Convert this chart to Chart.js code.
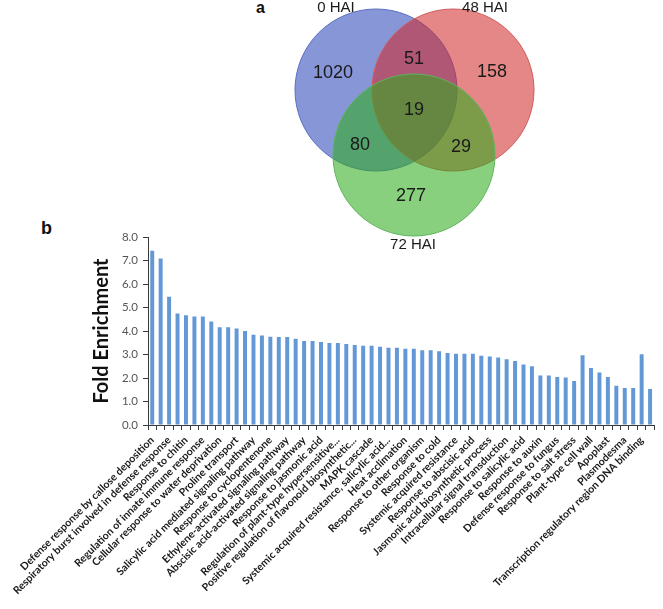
<!DOCTYPE html>
<html>
<head>
<meta charset="utf-8">
<script src="https://cdn.jsdelivr.net/npm/chart.js@4.4.0/dist/chart.umd.min.js"></script>
<style>
body { margin: 0; background: #fff; width: 663px; height: 609px; overflow: hidden; position: relative; }
/* bubble charts pad the plot by radius+border (82px), so the canvas is grown by that much */
#venn { position: absolute; left: 158px; top: -82px; }
#bars { position: absolute; left: 0; top: 220px; }
.panel { position: absolute; font-family: 'Liberation Sans', Arial, sans-serif; font-weight: bold; color: #111; line-height: 1; }
</style>
</head>
<body>
<div class="panel" style="left:256px;top:0px;font-size:16px">a</div>
<div class="panel" style="left:41px;top:219px;font-size:18px">b</div>
<canvas id="venn" width="524" height="424"></canvas>
<canvas id="bars" width="663" height="389"></canvas>
<script>
// Venn counts: only0, 0&48, only48, all three, 0&72, 48&72, only72
var setNames = ['0 HAI', '48 HAI', '72 HAI']
var regionCounts = [1020, 51, 158, 19, 80, 29, 277]

// fold enrichment of the 60 GO terms, in plot order
var foldValues = [7.42, 7.09, 5.46, 4.75, 4.67, 4.62, 4.62, 4.40, 4.16, 4.16,
    4.11, 4.00, 3.84, 3.81, 3.76, 3.74, 3.74, 3.67, 3.57, 3.57,
    3.53, 3.49, 3.49, 3.45, 3.40, 3.37, 3.37, 3.33, 3.29, 3.29,
    3.25, 3.25, 3.18, 3.18, 3.14, 3.06, 3.03, 3.03, 3.03, 2.95,
    2.91, 2.87, 2.80, 2.72, 2.57, 2.50, 2.11, 2.11, 2.04, 2.02,
    1.87, 2.97, 2.43, 2.23, 2.04, 1.67, 1.57, 1.57, 3.01, 1.53]

// only every other term is printed under the axis
var shownTerms = ['Defense response by callose deposition',
    'Respiratory burst involved in defense response',
    'Response to chitin',
    'Regulation of innate immune response',
    'Cellular response to water deprivation',
    'Proline transport',
    'Salicylic acid mediated signaling pathway',
    'Response to cyclopentenone',
    'Ethylene-activated signaling pathway',
    'Abscisic acid-activated signaling pathway',
    'Response to jasmonic acid',
    'Regulation of plant-type hypersensitive...',
    'Positive regulation of flavonoid biosynthetic...',
    'MAPK cascade',
    'Systemic acquired resistance, salicylic acid...',
    'Heat acclimation',
    'Response to other organism',
    'Response to cold',
    'Systemic acquired resistance',
    'Response to abscisic acid',
    'Jasmonic acid biosynthetic process',
    'Intracellular signal transduction',
    'Response to salicylic acid',
    'Response to auxin',
    'Defense response to fungus',
    'Response to salt stress',
    'Plant-type cell wall',
    'Apoplast',
    'Plasmodesma',
    'Transcription regulatory region DNA binding']

var yTicks = [0, 1, 2, 3, 4, 5, 6, 7, 8]

// layout of the venn (px inside the 360x260 plot box)
var circleCenters = [[136, 90], [213, 90], [174, 155]]
var circleRadius = 81
var circleFill = ['rgba(37,64,182,0.55)', 'rgba(210,37,37,0.55)', 'rgba(46,173,28,0.57)']
var circleLine = ['#5a6cc0', '#cf5a5a', '#5cb35c']
var setLabelPos = [[96, 8], [245, 8], [173, 245]]
var regionPos = [[93, 73], [174, 59], [252, 72], [174, 110], [120, 145], [221, 147], [171, 196]]

Chart.defaults.font.family = 'Lato'

var vennText = {
    id: 'vennText',
    afterDatasetsDraw: function (chart) {
        let ctx = chart.ctx
        let xs = chart.scales.x
        let ys = chart.scales.y
        ctx.save()
        ctx.fillStyle = '#1a1a1a'
        ctx.textAlign = 'center'
        ctx.textBaseline = 'middle'
        ctx.font = '18px "Liberation Sans", Arial, sans-serif'
        regionCounts.forEach((n, i) => {
            ctx.fillText(String(n), xs.getPixelForValue(regionPos[i][0]), ys.getPixelForValue(regionPos[i][1]))
        })
        ctx.font = '15px "Liberation Sans", Arial, sans-serif'
        setNames.forEach((s, i) => {
            ctx.fillText(s, xs.getPixelForValue(setLabelPos[i][0]), ys.getPixelForValue(setLabelPos[i][1]))
        })
        ctx.restore()
    }
}

new Chart(document.getElementById('venn'), {
    type: 'bubble',
    data: {
        // lower order is painted later, so 72 HAI ends up on top like the original
        datasets: setNames.map((s, i) => ({
            label: s,
            data: [{ x: circleCenters[i][0], y: circleCenters[i][1], r: circleRadius }],
            backgroundColor: circleFill[i],
            borderColor: circleLine[i],
            borderWidth: 1,
            order: 2 - i,
            clip: false
        }))
    },
    options: {
        responsive: false,
        animation: false,
        layout: { padding: 0 },
        plugins: { legend: { display: false }, tooltip: { enabled: false } },
        scales: {
            x: { type: 'linear', min: 0, max: 360, display: false },
            y: { type: 'linear', min: 0, max: 260, reverse: true, display: false }
        }
    },
    plugins: [vennText]
})

let axisColor = '#3a3a3a'

new Chart(document.getElementById('bars'), {
    type: 'bar',
    data: {
        labels: foldValues.map((v, i) => i % 2 ? '' : shownTerms[i / 2]),
        datasets: [{
            data: foldValues,
            backgroundColor: 'rgb(98,152,214)',
            categoryPercentage: 1,
            barPercentage: 0.47
        }]
    },
    options: {
        responsive: false,
        animation: false,
        layout: { padding: { top: 17, right: 2, left: 0, bottom: 0 } },
        plugins: { legend: { display: false }, tooltip: { enabled: false } },
        scales: {
            x: {
                grid: { offset: true, drawOnChartArea: false, tickLength: 5, color: axisColor },
                border: { color: axisColor },
                ticks: {
                    autoSkip: false, minRotation: 45, maxRotation: 45, padding: 4,
                    color: '#1a1a1a', font: { size: 10.5, weight: 'bold' }
                },
                afterFit: (s) => { s.height = 184 }
            },
            y: {
                min: 0, max: 8,
                afterBuildTicks: (s) => { s.ticks = yTicks.map(v => ({ value: v })) },
                ticks: { color: '#555', font: { size: 11.5 }, padding: 5, callback: v => v.toFixed(1) },
                grid: { drawOnChartArea: false, tickLength: 5, color: axisColor },
                border: { color: axisColor },
                title: {
                    display: true, text: 'Fold Enrichment', color: '#111',
                    font: { size: 20, weight: 'bold' }, padding: { top: 90, bottom: 0 }
                },
                afterFit: (s) => { s.width = 148 }
            }
        }
    }
})
</script>
</body>
</html>
